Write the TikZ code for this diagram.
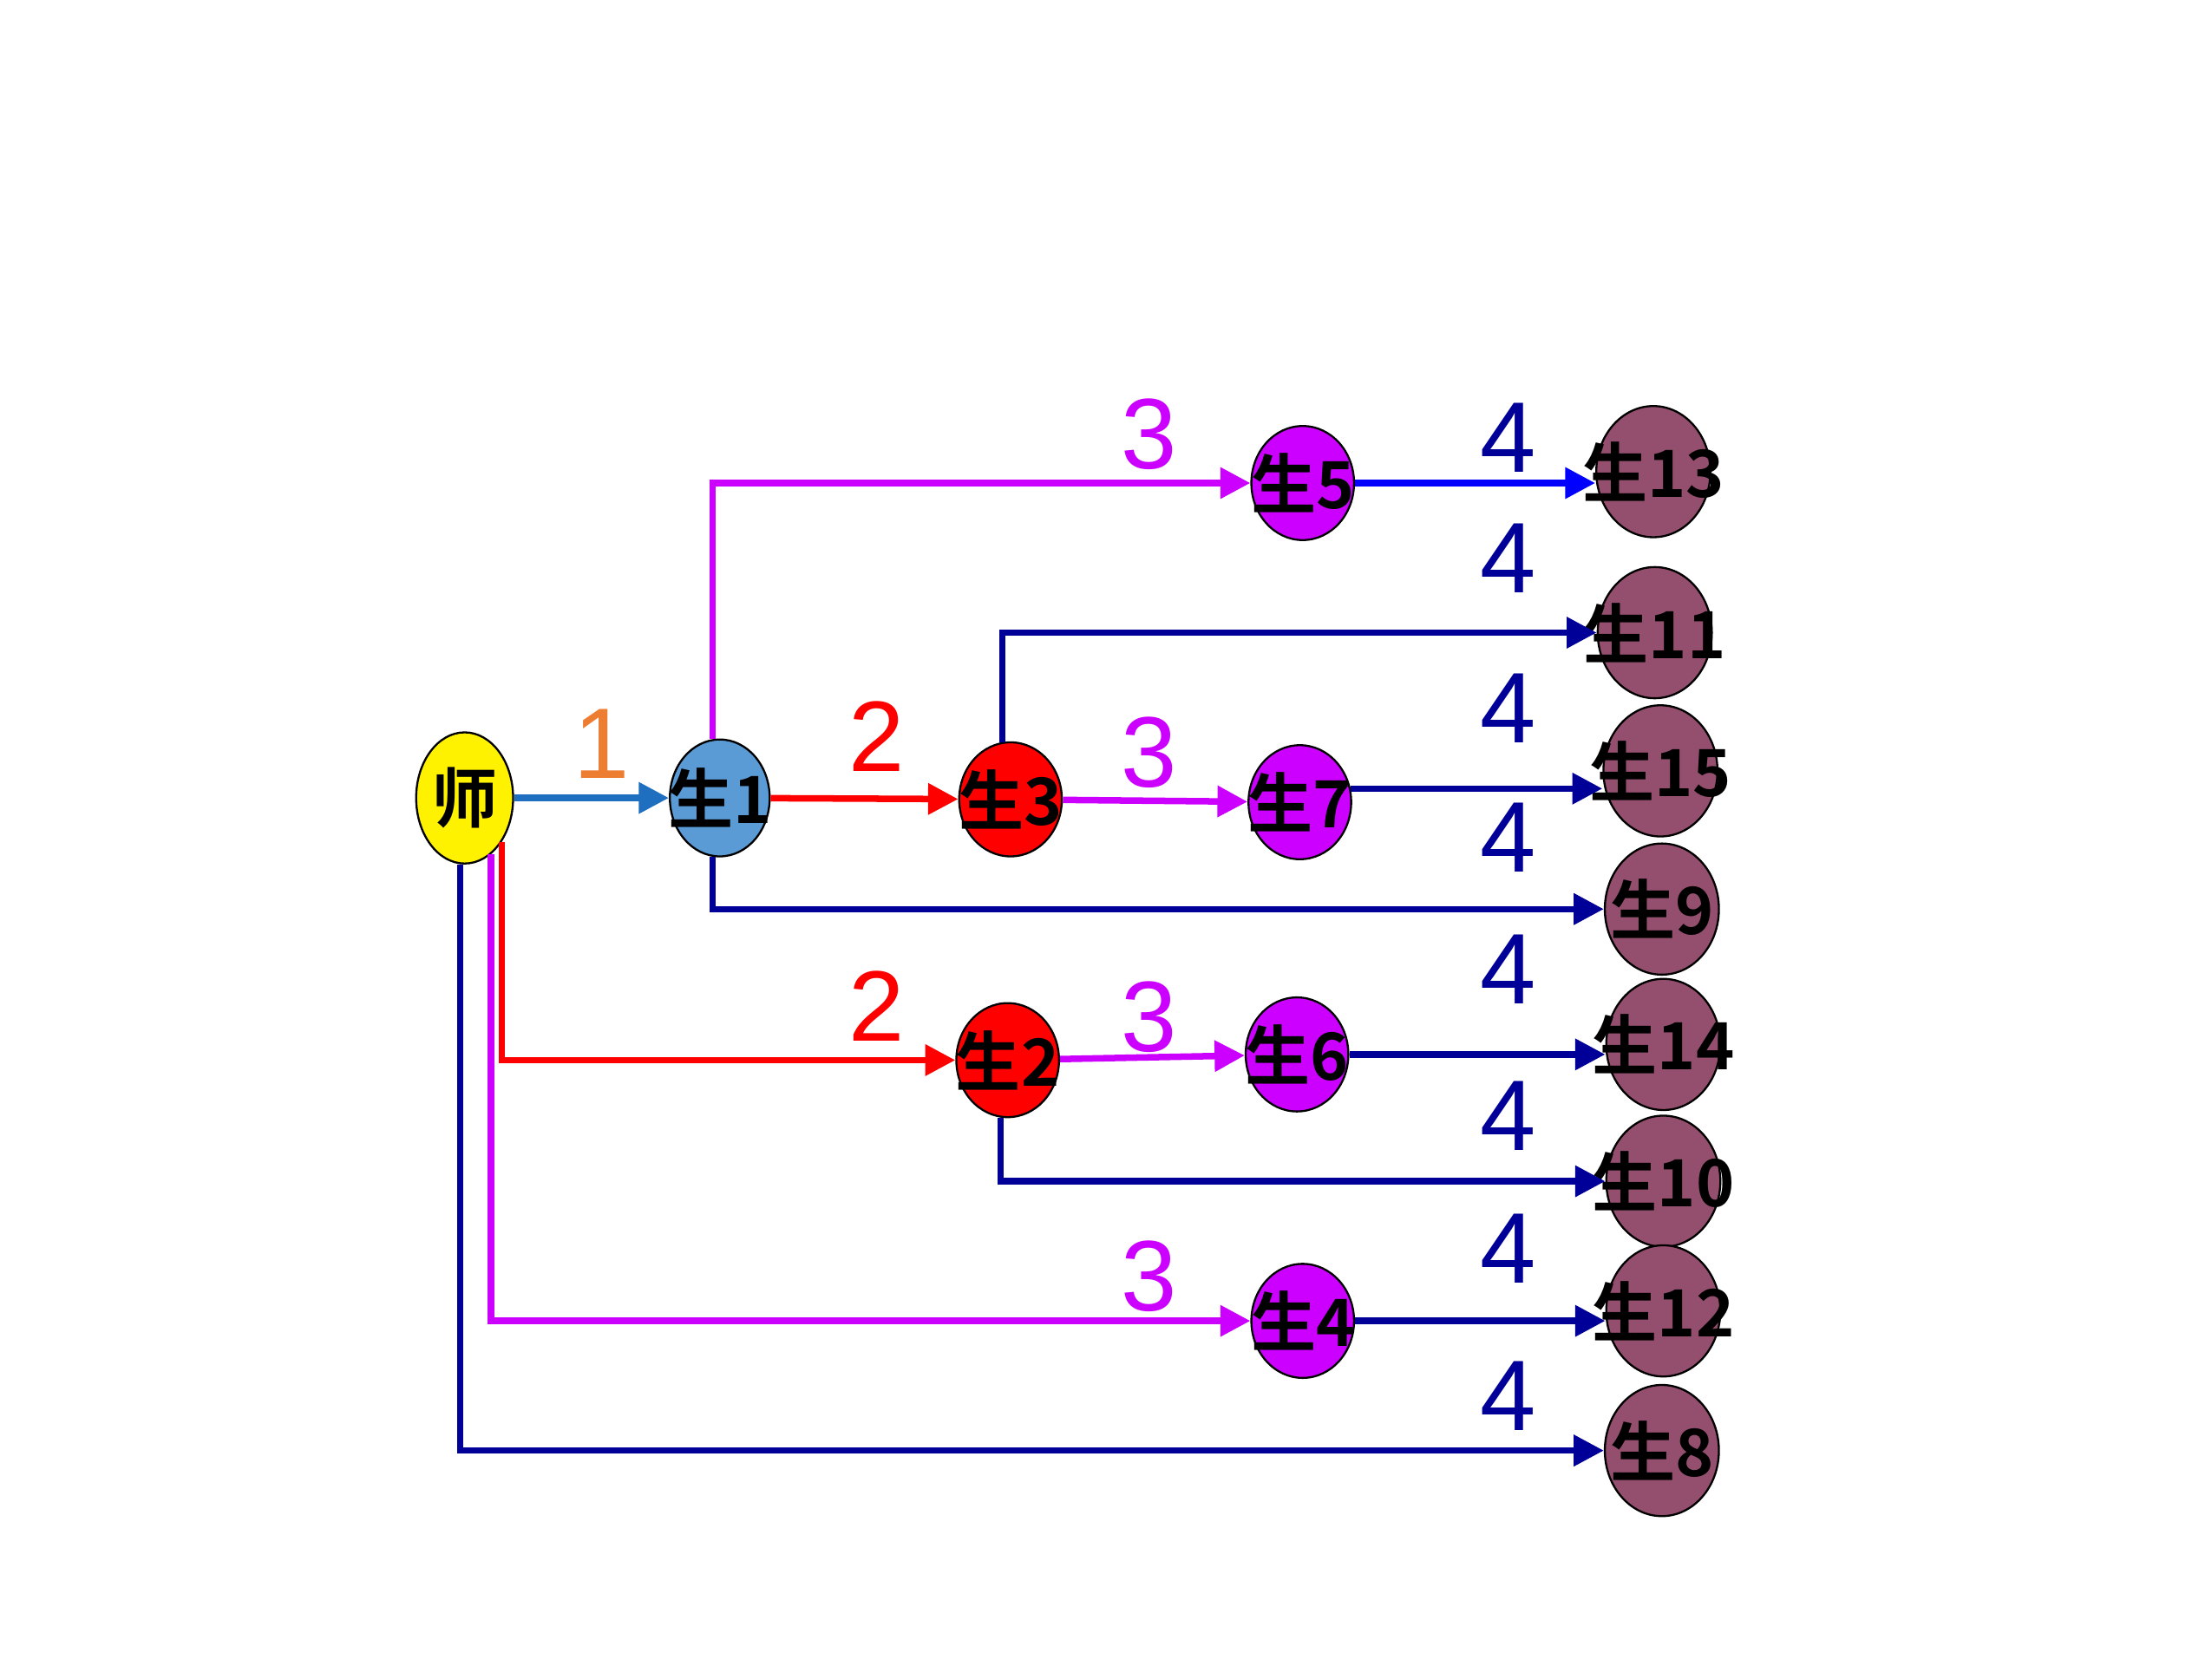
\documentclass[tikz,border=0pt]{standalone}
\usepackage{fontspec}
\setmainfont{Liberation Sans}
\newfontfamily\cjk{Noto Sans CJK SC}[BoldFont={* Bold}]
\usetikzlibrary{shapes.geometric,arrows.meta}
\definecolor{tblue}{HTML}{5B9BD5}
\definecolor{lblue}{HTML}{1F6FC0}
\definecolor{navy}{HTML}{000099}
\definecolor{vio}{HTML}{CC00FF}
\definecolor{plum}{HTML}{944E6E}
\definecolor{org}{HTML}{ED7D31}
\newcommand{\nm}[1]{\makebox[0pt]{#1}}
\tikzset{st/.style = {ellipse, draw, thin, minimum width=0.72cm, minimum height=0.8cm, inner sep=0pt,
                      font=\cjk\bfseries\fontsize{13}{13}\selectfont},
           le/.style = {st, fill=plum, minimum width=0.8cm, minimum height=0.92cm},
           w/.style = {font=\fontsize{20}{20}\selectfont},
           ar/.style = {line width=1.3pt, -{Triangle[length=6pt,width=6pt]}}}
\begin{document}
\begin{tikzpicture}[x=0.01cm, y=-0.01cm]
    \useasboundingbox (0,0) rectangle (1552,1164);
    \node[st, fill=yellow, minimum width=0.68cm, minimum height=0.92cm] (t) at (326,560) {\nm{师}};
    \node[st, fill=tblue, minimum width=0.7cm, minimum height=0.82cm] (s1) at (505,560) {\nm{生1}};
    \node[st, fill=red] (s3) at (709,561) {\nm{生3}};
    \node[st, fill=vio] (s7) at (912,563) {\nm{生7}};
    \node[st, fill=vio] (s5) at (914,339) {\nm{生5}};
    \node[st, fill=red] (s2) at (707,744) {\nm{生2}};
    \node[st, fill=vio] (s6) at (910,740) {\nm{生6}};
    \node[st, fill=vio] (s4) at (914,927) {\nm{生4}};
    \node[le] (s13) at (1160,331) {\nm{生13}};
    \node[le] (s11) at (1161,444) {\nm{生11}};
    \node[le] (s15) at (1165,541) {\nm{生15}};
    \node[le] (s9) at (1166,638) {\nm{生9}};
    \node[le] (s14) at (1167,733) {\nm{生14}};
    \node[le] (s10) at (1167,829) {\nm{生10}};
    \node[le] (s12) at (1167,920) {\nm{生12}};
    \node[le] (s8) at (1166,1018) {\nm{生8}};
    % first step
    \draw[ar, lblue] (t) -- (s1);
    \draw[ar, red] (s1) -- (s3);
    \draw[ar, red] (t.-50) |- (s2);
    % third step
    \draw[ar, vio] (s3) -- (s7);
    \draw[ar, vio] (s2) -- (s6);
    \draw[ar, vio] (s1.97) |- (s5);
    \draw[ar, vio] (t.-65) |- (s4);
    % fourth step
    \draw[ar, blue] (s5) -- (s5 -| s13.west);
    \draw[ar, navy] (s3.98) |- (s11);
    \draw[ar, navy] (s7.15) -- (s7.15 -| s15.west);
    \draw[ar, navy] (s1.-97) |- (s9);
    \draw[ar, navy] (s6) -- (s6 -| s14.west);
    \draw[ar, navy] (s2.-97) |- (s10);
    \draw[ar, navy] (s4) -- (s4 -| s12.west);
    \draw[ar, navy] (t.-94) |- (s8);
    % step labels
    \node[w, org] (l1) at (422,522) {1};
    \node[w, red] (l2) at (615,517) {2};
    \node[w, red] (l3) at (615,706) {2};
    \node[w, vio] (l4) at (806,305) {3};
    \node[w, vio] (l5) at (806,528) {3};
    \node[w, vio] (l6) at (806,714) {3};
    \node[w, vio] (l7) at (806,896) {3};
    \foreach \y in {307,392,497,588,680,783,876,980}
        \node[w, navy] at (1058,\y) {4};
\end{tikzpicture}
\end{document}
